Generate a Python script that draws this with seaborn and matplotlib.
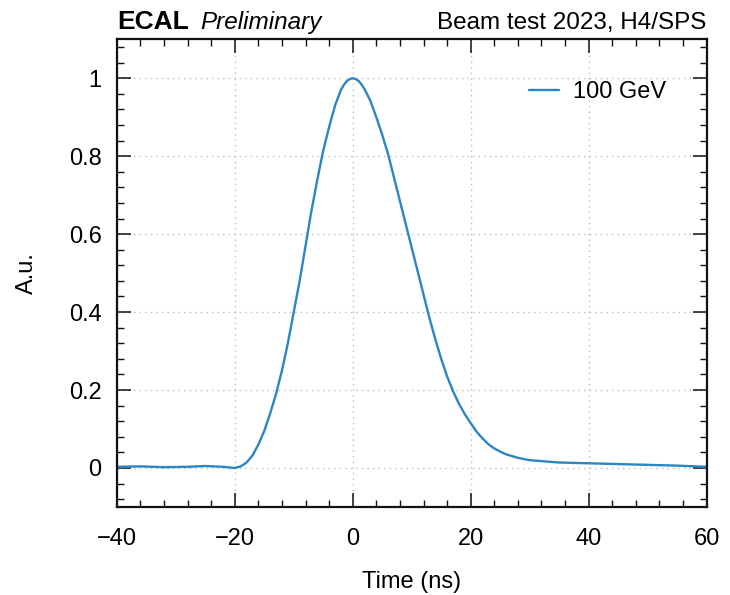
"""
ECAL pulse shape, beam test 2023 (H4/SPS)
"""

import matplotlib
matplotlib.use("Agg")
import matplotlib.pyplot as plt
from matplotlib.ticker import MultipleLocator
import seaborn as sns
import pandas as pd

# pulse shape (time in ns, amplitude in A.u.)
time_ns = [-40, -36, -32, -28, -25, -22, -20, -19, -18, -17, -16, -15, -14,
           -13, -12, -11, -10, -9, -8, -7, -6, -5, -4, -3, -2, -1.5, -1,
           -0.5, 0, 0.5, 1, 1.5, 2, 3, 4, 5, 6, 7, 8, 9, 10, 11, 12, 13, 14,
           15, 16, 17, 18, 19, 20, 21, 22, 23, 24, 25, 26, 28, 30, 35, 40,
           45, 50, 55, 60]
amplitude = [0.003, 0.004, 0.002, 0.003, 0.005, 0.003, 0.0, 0.004, 0.014,
             0.032, 0.06, 0.095, 0.14, 0.19, 0.25, 0.32, 0.40, 0.48, 0.57,
             0.66, 0.74, 0.815, 0.875, 0.93, 0.97, 0.983, 0.993,
             0.998, 1.0, 0.998, 0.993, 0.984, 0.972, 0.942, 0.90, 0.855,
             0.805, 0.745, 0.685, 0.625, 0.565, 0.505, 0.445, 0.385, 0.33,
             0.28, 0.235, 0.197, 0.165, 0.138, 0.115, 0.093, 0.076, 0.061,
             0.05, 0.042, 0.035, 0.026, 0.02, 0.014, 0.012, 0.010, 0.008,
             0.006, 0.003]
series_label = "100 GeV"

df = pd.DataFrame({"Time (ns)": time_ns, "A.u.": amplitude})

sns.set_theme(style="ticks")
plt.rcParams["font.family"] = ["Liberation Sans", "DejaVu Sans"]
plt.rcParams["axes.unicode_minus"] = True
plt.rcParams["text.color"] = "black"
plt.rcParams["axes.labelcolor"] = "black"
plt.rcParams["xtick.labelcolor"] = "black"
plt.rcParams["ytick.labelcolor"] = "black"

fig = plt.figure(figsize=(7.3, 5.95), dpi=100)
ax = fig.add_axes([0.160, 0.148, 0.808, 0.786])

sns.lineplot(data=df, x="Time (ns)", y="A.u.", ax=ax, color="#2b86c2",
             linewidth=1.7, label=series_label, sort=False)

ax.set_xlim(-40, 60)
ax.set_ylim(-0.1, 1.1)
ax.xaxis.set_major_locator(MultipleLocator(20))
ax.xaxis.set_minor_locator(MultipleLocator(4))
ax.yaxis.set_major_locator(MultipleLocator(0.2))
ax.yaxis.set_minor_locator(MultipleLocator(0.04))
ax.yaxis.set_major_formatter(plt.FuncFormatter(lambda v, p: f"{v:g}"))

ax.tick_params(which="both", direction="in", top=True, right=True,
               labelsize=17, color="#111111")
ax.tick_params(axis="x", which="major", length=10, width=1.1, pad=15)
ax.tick_params(axis="y", which="major", length=10, width=1.1, pad=11)
ax.tick_params(which="minor", length=5, width=1.0)
for s in ax.spines.values():
    s.set_linewidth(1.6)
    s.set_color("#111111")

ax.grid(True, which="major", linestyle=(0, (1, 3)), color="#bbbbbb",
        linewidth=1.0)

ax.set_xlabel("Time (ns)", fontsize=17, labelpad=15)
ax.set_ylabel("A.u.", fontsize=17)
ax.yaxis.set_label_coords(-0.134, 0.5)

ax.legend(loc="center right", bbox_to_anchor=(0.932, 0.887), frameon=False,
          fontsize=17, handlelength=1.3, handletextpad=0.6, borderpad=0,
          borderaxespad=0)

ax.text(0.0, 1.012, "ECAL", transform=ax.transAxes, fontsize=19,
        fontweight="bold", ha="left", va="bottom")
ax.text(0.141, 1.012, "Preliminary", transform=ax.transAxes, fontsize=17.5,
        fontstyle="italic", ha="left", va="bottom")
ax.text(1.0, 1.012, "Beam test 2023, H4/SPS", transform=ax.transAxes,
        fontsize=17.5, ha="right", va="bottom")

fig.savefig("out.png", dpi=100)
